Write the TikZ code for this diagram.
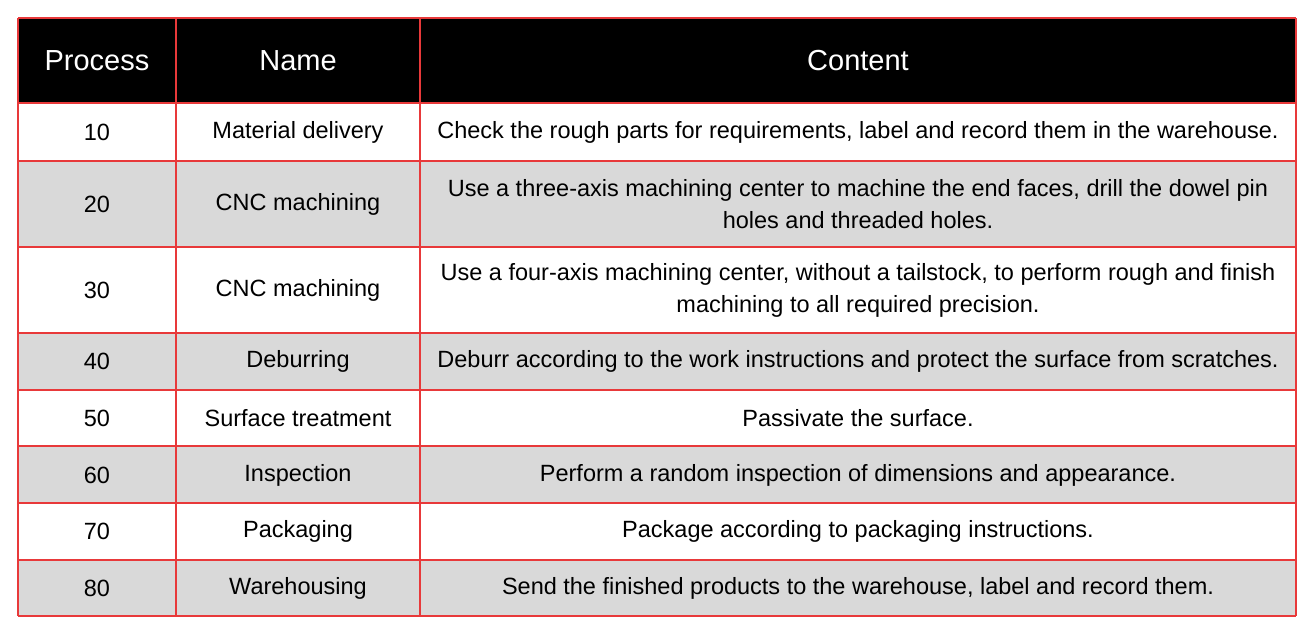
\documentclass[tikz,border=0pt]{standalone}
\usepackage{fontspec}
\setmainfont{Liberation Sans}
\definecolor{rowgray}{HTML}{D9D9D9}
\definecolor{gridred}{HTML}{E8393A}
\begin{document}
\begin{tikzpicture}[x=1pt,y=-1pt,
  cell/.style={align=center,font=\fontsize{23.5}{32}\selectfont,inner sep=0pt},
  head/.style={align=center,font=\fontsize{29}{32}\selectfont,text=white,inner sep=0pt}]
\useasboundingbox (0,0) rectangle (1314,633);
\fill[white] (0,0) rectangle (1314,633);
\fill[black] (18,18) rectangle (1296,103);
\foreach \a/\b in {161/247,333/390,446/503,560/616}{\fill[rowgray] (18,\a) rectangle (1296,\b);}
\foreach \y in {18,103,161,247,333,390,446,503,560,616}{\draw[gridred,line width=1.5pt] (18,\y) -- (1296,\y);}
\foreach \x in {18,176,420,1296}{\draw[gridred,line width=1.5pt] (\x,18) -- (\x,616);}
\node[head] (h1) at (97,61) {Process};
\node[head] (h2) at (298,61) {Name};
\node[head] (h3) at (858,61) {Content};
\foreach \i/\yc/\p/\n/\c in {
 1/132/10/Material delivery/{Check the rough parts for requirements, label and record them in the warehouse.},
 2/204/20/CNC machining/{Use a three-axis machining center to machine the end faces, drill the dowel pin\\holes and threaded holes.},
 3/290/30/CNC machining/{Use a four-axis machining center, without a tailstock, to perform rough and finish\\machining to all required precision.},
 4/361/40/Deburring/{Deburr according to the work instructions and protect the surface from scratches.},
 5/418/50/Surface treatment/{Passivate the surface.},
 6/475/60/Inspection/{Perform a random inspection of dimensions and appearance.},
 7/531/70/Packaging/{Package according to packaging instructions.},
 8/588/80/Warehousing/{Send the finished products to the warehouse, label and record them.}}{
 \node[cell] (p\i) at (97,\yc) {\p};
 \node[cell] (n\i) at (298,\yc) {\n};
 \node[cell] (c\i) at (858,\yc) {\c};
}
\end{tikzpicture}
\end{document}
